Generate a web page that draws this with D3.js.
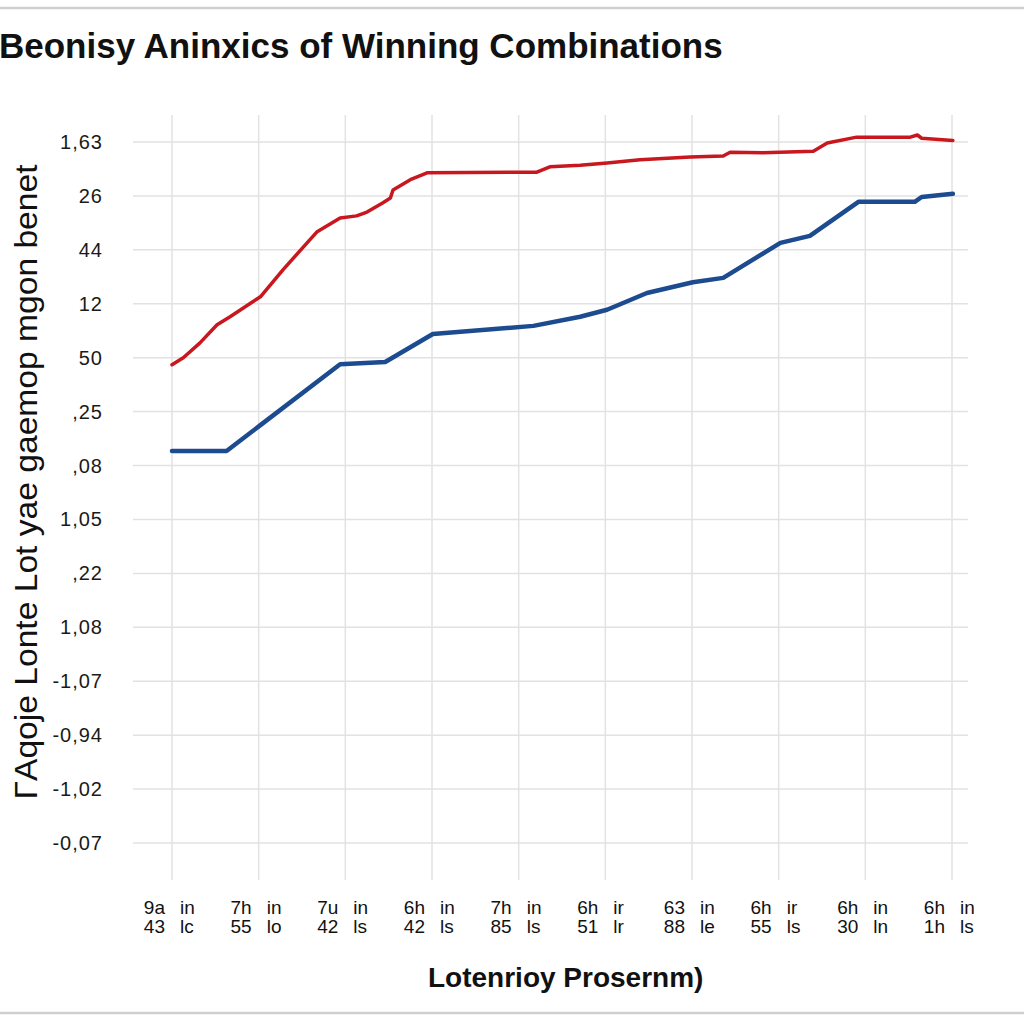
<!DOCTYPE html>
<html>
<head>
<meta charset="utf-8">
<script src="https://cdn.jsdelivr.net/npm/d3@7"></script>
<style>
  html, body { margin: 0; padding: 0; background: #fff; }
  svg { display: block; }
</style>
</head>
<body>
<svg id="chart" width="1024" height="1024"></svg>
<script>
// ---------- data ----------
const title = "Beonisy Aninxics of Winning Combinations";
const xTitle = "Lotenrioy Prosernm)";
const yTitle = "ΓAqoje Lonte Lot yae gaemop mgon benet";

// y tick labels, top to bottom
const yTickLabels = ["1,63","26","44","12","50",",25",",08","1,05",",22","1,08","-1,07","-0,94","-1,02","-0,07"];

// x tick labels (two lines, two columns each)
const xTopLeft  = ["9a","7h","7u","6h","7h","6h","63","6h","6h","6h"];
const xTopRight = ["in","in","in","in","in","ir","in","ir","in","in"];
const xBotLeft  = ["43","55","42","42","85","51","88","55","30","1h"];
const xBotRight = ["lc","lo","ls","ls","ls","lr","le","ls","ln","ls"];

// series: x in category units (0..9), y in gridline units (0 = bottom line, 13 = top line)
const redX = [0,0.13,0.32,0.52,0.67,1.02,1.28,1.67,1.94,2.13,2.25,2.43,2.52,2.55,2.75,2.95,4.21,4.36,4.71,5.02,5.40,5.98,6.36,6.44,6.82,7.40,7.56,7.90,8.52,8.60,8.65,9.01];
const redY = [8.87,9.00,9.27,9.61,9.76,10.13,10.63,11.33,11.59,11.63,11.70,11.87,11.96,12.11,12.30,12.43,12.44,12.54,12.57,12.61,12.67,12.72,12.74,12.81,12.80,12.83,12.98,13.09,13.09,13.13,13.07,13.03];

const blueX = [0,0.63,1.02,1.94,2.46,3.01,4.17,4.71,5.02,5.48,6.01,6.36,7.02,7.36,7.92,8.57,8.65,9.01];
const blueY = [7.27,7.27,7.75,8.88,8.92,9.44,9.59,9.76,9.89,10.20,10.40,10.48,11.13,11.26,11.89,11.89,11.98,12.04];

// ---------- drawing ----------
const svg = d3.select("#chart");
const font = "'Liberation Sans', Arial, Helvetica, sans-serif";

const x = d3.scaleLinear().domain([0, 9]).range([172, 952]);
const y = d3.scaleLinear().domain([0, 13]).range([843, 142]);

// frame lines
svg.append("line").attr("x1", 0).attr("x2", 1024).attr("y1", 8).attr("y2", 8)
  .attr("stroke", "#cfcfcf").attr("stroke-width", 2.5);
svg.append("line").attr("x1", 0).attr("x2", 1024).attr("y1", 1013).attr("y2", 1013)
  .attr("stroke", "#cfcfcf").attr("stroke-width", 2.5);

// grid
const grid = svg.append("g");
grid.selectAll("line.h").data(d3.range(14)).join("line")
  .attr("class", "h")
  .attr("x1", 133).attr("x2", 968)
  .attr("y1", d => y(d)).attr("y2", d => y(d))
  .attr("stroke", "#e2e2e2").attr("stroke-width", 1.5);
grid.selectAll("line.v").data(d3.range(10)).join("line")
  .attr("class", "v")
  .attr("x1", d => x(d)).attr("x2", d => x(d))
  .attr("y1", 115).attr("y2", 880)
  .attr("stroke", "#e2e2e2").attr("stroke-width", 1.5);

// y tick labels
svg.append("g").selectAll("text").data(d3.range(14)).join("text")
  .attr("x", 103)
  .attr("y", d => y(d) + 7)
  .attr("text-anchor", "end")
  .attr("font-family", font)
  .attr("font-size", 20)
  .attr("letter-spacing", 1)
  .attr("fill", "#1a1a1a")
  .text(d => yTickLabels[13 - d]);

// x tick labels
const xl = svg.append("g").attr("font-family", font).attr("font-size", 19).attr("fill", "#111");
const idx = d3.range(10);
xl.selectAll("text.tl").data(idx).join("text").attr("class", "tl")
  .attr("x", d => x(d) - 7).attr("y", 914).attr("text-anchor", "end").text(d => xTopLeft[d]);
xl.selectAll("text.tr").data(idx).join("text").attr("class", "tr")
  .attr("x", d => x(d) + 8).attr("y", 914).attr("text-anchor", "start").text(d => xTopRight[d]);
xl.selectAll("text.bl").data(idx).join("text").attr("class", "bl")
  .attr("x", d => x(d) - 7).attr("y", 933).attr("text-anchor", "end").text(d => xBotLeft[d]);
xl.selectAll("text.br").data(idx).join("text").attr("class", "br")
  .attr("x", d => x(d) + 8).attr("y", 933).attr("text-anchor", "start").text(d => xBotRight[d]);

// lines
const line = d3.line().x(d => x(d[0])).y(d => y(d[1]));
const redData = redX.map((v, i) => [v, redY[i]]);
const blueData = blueX.map((v, i) => [v, blueY[i]]);

svg.append("path").datum(blueData).attr("d", line)
  .attr("fill", "none").attr("stroke", "#1d4b8f").attr("stroke-width", 4.5)
  .attr("stroke-linejoin", "round").attr("stroke-linecap", "round");
svg.append("path").datum(redData).attr("d", line)
  .attr("fill", "none").attr("stroke", "#c8171e").attr("stroke-width", 3.5)
  .attr("stroke-linejoin", "round").attr("stroke-linecap", "round");

// title
svg.append("text").attr("x", -1).attr("y", 58)
  .attr("font-family", font).attr("font-size", 35).attr("font-weight", "bold")
  .attr("fill", "#111").text(title);

// x title
svg.append("text").attr("x", 428).attr("y", 987)
  .attr("font-family", font).attr("font-size", 28).attr("font-weight", "bold")
  .attr("fill", "#111").text(xTitle);

// y title
svg.append("text")
  .attr("transform", "translate(37,482) rotate(-90)")
  .attr("text-anchor", "middle")
  .attr("font-family", font).attr("font-size", 31)
  .attr("textLength", 635).attr("lengthAdjust", "spacingAndGlyphs")
  .attr("fill", "#111").text(yTitle);
</script>
</body>
</html>
